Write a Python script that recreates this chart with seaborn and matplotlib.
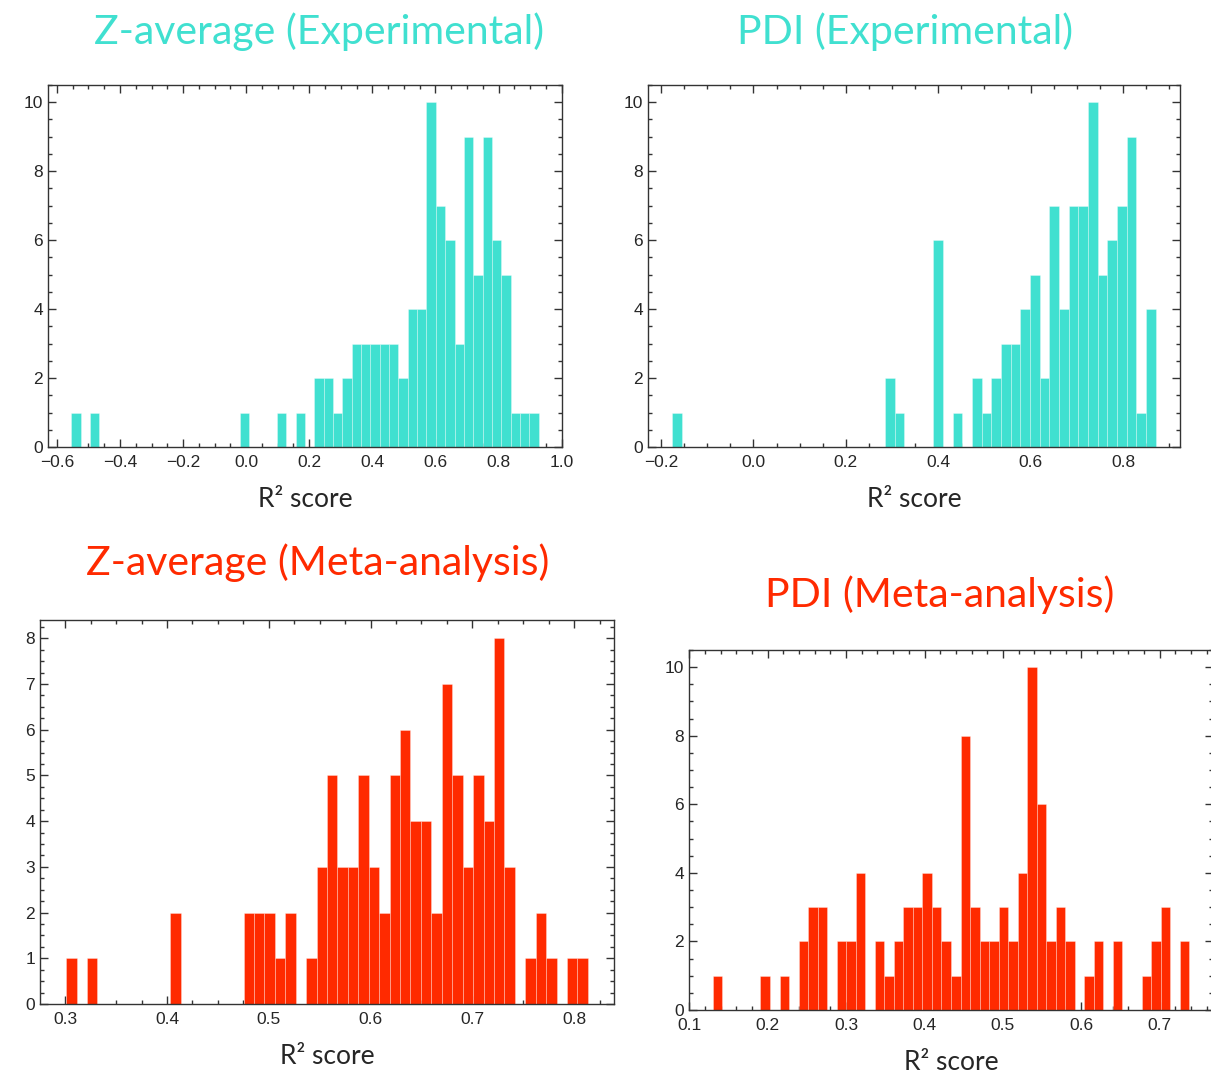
import numpy as np
import pandas as pd
import matplotlib
matplotlib.use("Agg")
import matplotlib.pyplot as plt
from matplotlib.ticker import MultipleLocator
import seaborn as sns

# histogram bin ranges (first left edge, last right edge), 50 bins each
zexp_range = (-0.554, 0.927)
pexp_range = (-0.176, 0.871)
zmeta_range = (0.3008, 0.8136)
pmeta_range = (0.1299, 0.7377)

# counts per bin
zexp_counts = [1, 0, 1, 0, 0, 0, 0, 0, 0, 0, 0, 0, 0, 0, 0, 0, 0, 0, 1, 0,
               0, 0, 1, 0, 1, 0, 2, 2, 1, 2, 3, 3, 3, 3, 3, 2, 4, 4, 10, 7,
               6, 3, 9, 5, 9, 6, 5, 1, 1, 1]
pexp_counts = [1, 0, 0, 0, 0, 0, 0, 0, 0, 0, 0, 0, 0, 0, 0, 0, 0, 0, 0, 0,
               0, 0, 2, 1, 0, 0, 0, 6, 0, 1, 0, 2, 1, 2, 3, 3, 4, 5, 2, 7,
               4, 7, 7, 10, 5, 6, 7, 9, 1, 4]
zmeta_counts = [1, 0, 1, 0, 0, 0, 0, 0, 0, 0, 2, 0, 0, 0, 0, 0, 0, 2, 2, 2,
                1, 2, 0, 1, 3, 5, 3, 3, 5, 3, 2, 5, 6, 4, 4, 2, 7, 5, 3, 5,
                4, 8, 3, 0, 1, 2, 1, 0, 1, 1]
pmeta_counts = [1, 0, 0, 0, 0, 1, 0, 1, 0, 2, 3, 3, 0, 2, 2, 4, 0, 2, 1, 2,
                3, 3, 4, 3, 2, 1, 8, 3, 2, 2, 3, 2, 4, 10, 6, 2, 3, 2, 0, 1,
                2, 0, 2, 0, 0, 1, 2, 3, 0, 2]

titles = ["Z-average (Experimental)", "PDI (Experimental)",
          "Z-average (Meta-analysis)", "PDI (Meta-analysis)"]
xlabel = "R\u00b2 score"

teal = "#40E0D0"
red = "#FF2A00"

sns.set_style("ticks")
plt.rcParams["font.family"] = ["Liberation Sans", "DejaVu Sans"]

fig = plt.figure(figsize=(12.11, 10.73), dpi=100)

W, H = 1211, 1073


def box(l, t, r, b):
    return [l / W, 1 - b / H, (r - l) / W, (b - t) / H]


panels = [
    (box(48, 85, 562, 447), zexp_range, zexp_counts, teal, 0.2, 0.05, 2, 0.5, (319, 32)),
    (box(648, 85, 1180, 447), pexp_range, pexp_counts, teal, 0.2, 0.05, 2, 0.5, (905, 32)),
    (box(40, 620, 614, 1004), zmeta_range, zmeta_counts, red, 0.1, 0.025, 1, 0.25, (318, 563)),
    (box(689, 650, 1213, 1010), pmeta_range, pmeta_counts, red, 0.1, 0.02, 2, 0.5, (940, 595)),
]

for (pos, rng, counts, col, xmaj, xmin, ymaj, ymin, tpos), title in zip(panels, titles):
    ax = fig.add_axes(pos)
    edges = np.linspace(rng[0], rng[1], len(counts) + 1)
    df = pd.DataFrame({"r2": (edges[:-1] + edges[1:]) / 2, "n": counts})
    sns.histplot(data=df, x="r2", weights="n", bins=list(edges), ax=ax, color=col,
                 alpha=1, edgecolor=(1, 1, 1, 0.35), linewidth=0.6)
    ax.margins(x=0.05)
    ax.set_ylabel("")
    ax.set_xlabel(xlabel, family=["Lato", "DejaVu Sans"], fontsize=19, labelpad=12)
    ax.xaxis.set_major_locator(MultipleLocator(xmaj))
    ax.xaxis.set_minor_locator(MultipleLocator(xmin))
    ax.yaxis.set_major_locator(MultipleLocator(ymaj))
    ax.yaxis.set_minor_locator(MultipleLocator(ymin))
    ax.tick_params(which="both", direction="in", top=True, right=True,
                   color="#333333", labelsize=12.5, width=1)
    ax.tick_params(axis="x", which="major", pad=6)
    ax.tick_params(which="major", length=6)
    ax.tick_params(which="minor", length=3)
    for s in ax.spines.values():
        s.set_color("#333333")
        s.set_linewidth(1)
    fig.text(tpos[0] / W, 1 - tpos[1] / H, title, color=col, fontsize=29.5,
             family=["Lato", "DejaVu Sans"], ha="center", va="center")

fig.savefig("out.png", dpi=100)
